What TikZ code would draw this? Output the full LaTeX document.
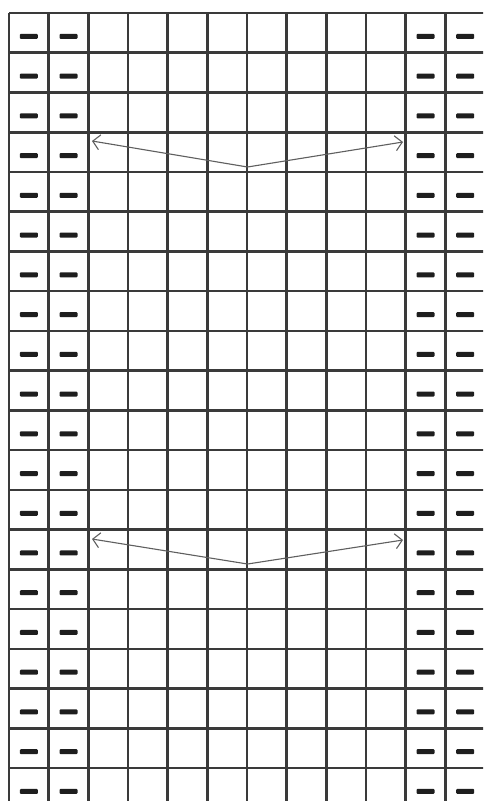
\documentclass[tikz,border=0pt]{standalone}
\usepackage{tikz}
\usetikzlibrary{arrows.meta,positioning}
\definecolor{gridline}{RGB}{58,58,58}
\definecolor{purlbar}{RGB}{30,30,30}
\definecolor{arrowgray}{RGB}{95,95,95}
\tikzset{
  gridrule/.style={gridline,line width=2.6pt},
  purl/.style={fill=purlbar,rounded corners=1pt,minimum width=18pt,minimum height=5pt,inner sep=0pt},
  shift arrow/.style={arrowgray,line width=1.1pt,-{Straight Barb[length=7pt,width=15pt]}}
}
\newcommand{\cw}{39.67}
\newcommand{\ch}{39.74}
\begin{document}
\begin{tikzpicture}[x=1pt,y=-1pt]
  \useasboundingbox (0,0) rectangle (483,803);
  \clip (0,0) rectangle (483,803);
  \fill[white] (0,0) rectangle (483,803);
  % grid lines
  \foreach \i in {0,...,12}
    \draw[gridrule] (9+\i*\cw,13) -- (9+\i*\cw,801);
  \foreach \j in {0,...,19}
    \draw[gridrule] (9,13+\j*\ch) -- (500,13+\j*\ch);
  % purl stitches in the border columns
  \foreach \c in {0,1,10,11}
    \foreach \r in {0,...,19}
      \node[purl] (p-\c-\r) at (9+\c*\cw+0.5*\cw,16.5+\r*\ch+0.5*\ch) {};
  % arrows
  \coordinate (top) at (247.5,167);
  \coordinate (topleft) at (92,141);
  \coordinate (topright) at (403,142);
  \coordinate (low) at (247.5,564);
  \coordinate (lowleft) at (92,539);
  \coordinate (lowright) at (403,540);
  \draw[shift arrow] (top) -- (topleft);
  \draw[shift arrow] (top) -- (topright);
  \draw[shift arrow] (low) -- (lowleft);
  \draw[shift arrow] (low) -- (lowright);
\end{tikzpicture}
\end{document}
